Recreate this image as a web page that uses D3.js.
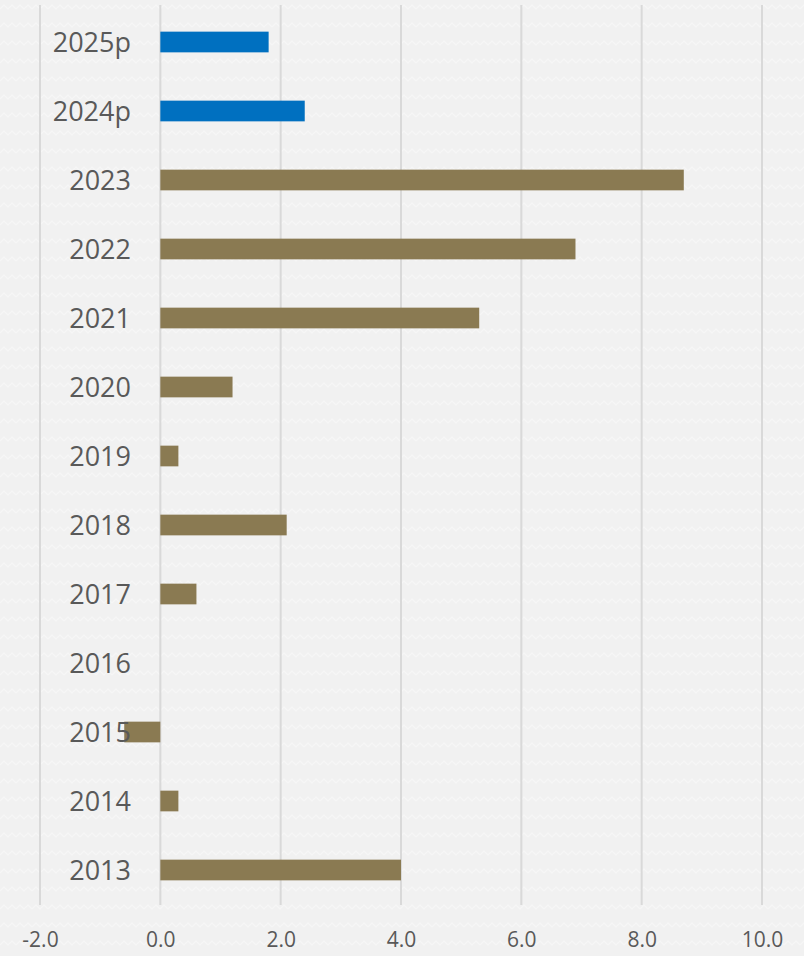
<!DOCTYPE html>
<html>
<head>
<meta charset="utf-8">
<script src="https://cdn.jsdelivr.net/npm/d3@7"></script>
<style>
  html, body { margin: 0; padding: 0; background: #f1f1f1; }
  svg { display: block; }
</style>
</head>
<body>
<svg width="804" height="956"></svg>
<script>
var years = ["2025p", "2024p", "2023", "2022", "2021", "2020", "2019", "2018", "2017", "2016", "2015", "2014", "2013"];
var values = [1.8, 2.4, 8.7, 6.9, 5.3, 1.2, 0.3, 2.1, 0.6, 0, -0.6, 0.3, 4.0];
var projected = ["2025p", "2024p"];
var xTicks = [-2, 0, 2, 4, 6, 8, 10];

var svg = d3.select("svg");
var width = +svg.attr("width");
var height = +svg.attr("height");

// faint background pattern
var defs = svg.append("defs");
var pat = defs.append("pattern")
    .attr("id", "zig")
    .attr("width", 16).attr("height", 18)
    .attr("patternUnits", "userSpaceOnUse");
pat.append("path")
    .attr("d", "M0,9 L4,5 L8,9 L12,5 L16,9")
    .attr("fill", "none")
    .attr("stroke", "#f6f6f6")
    .attr("stroke-width", 1.2);

svg.append("rect")
    .attr("width", width).attr("height", height)
    .attr("fill", "#f1f1f1");
svg.append("rect")
    .attr("width", width).attr("height", height)
    .attr("fill", "url(#zig)");

var x = d3.scaleLinear()
    .domain([-2, 10])
    .range([40, 762]);

var y = d3.scaleBand()
    .domain(years)
    .range([7.5, 904.5])
    .paddingInner(0.7)
    .paddingOuter(0.35);

// gridlines
svg.append("g")
  .selectAll("line")
  .data(xTicks)
  .enter().append("line")
    .attr("x1", function(d) { return x(d); })
    .attr("x2", function(d) { return x(d); })
    .attr("y1", 5)
    .attr("y2", 905)
    .attr("stroke", "#d9d9d9")
    .attr("stroke-width", 2);

// x axis labels (plain hyphen for negatives, like the original)
var fmt = d3.format(".1f");
var xAxis = svg.append("g")
    .attr("transform", "translate(0,940)")
    .call(d3.axisBottom(x).tickValues(xTicks)
      .tickFormat(function(d) { return fmt(d).replace("\u2212", "-"); })
      .tickSize(0));
xAxis.select(".domain").remove();
xAxis.selectAll("text")
    .attr("y", 0)
    .attr("dy", "0.35em")
    .attr("font-family", "'Open Sans', sans-serif")
    .attr("font-size", 21)
    .attr("fill", "#595959");

// bars
svg.append("g")
  .selectAll("rect")
  .data(years)
  .enter().append("rect")
    .attr("x", function(d, i) { return x(Math.min(0, values[i])); })
    .attr("y", function(d) { return y(d); })
    .attr("width", function(d, i) { return Math.abs(x(values[i]) - x(0)); })
    .attr("height", y.bandwidth())
    .attr("fill", function(d) { return projected.indexOf(d) >= 0 ? "#0070c0" : "#8a7a52"; });

// category labels
svg.append("g")
  .selectAll("text")
  .data(years)
  .enter().append("text")
    .attr("x", 131)
    .attr("y", function(d) { return y(d) + y.bandwidth() / 2; })
    .attr("dy", "0.36em")
    .attr("text-anchor", "end")
    .attr("font-family", "'Open Sans', sans-serif")
    .attr("font-size", 27)
    .attr("fill", "#595959")
    .text(function(d) { return d; });
</script>
</body>
</html>
